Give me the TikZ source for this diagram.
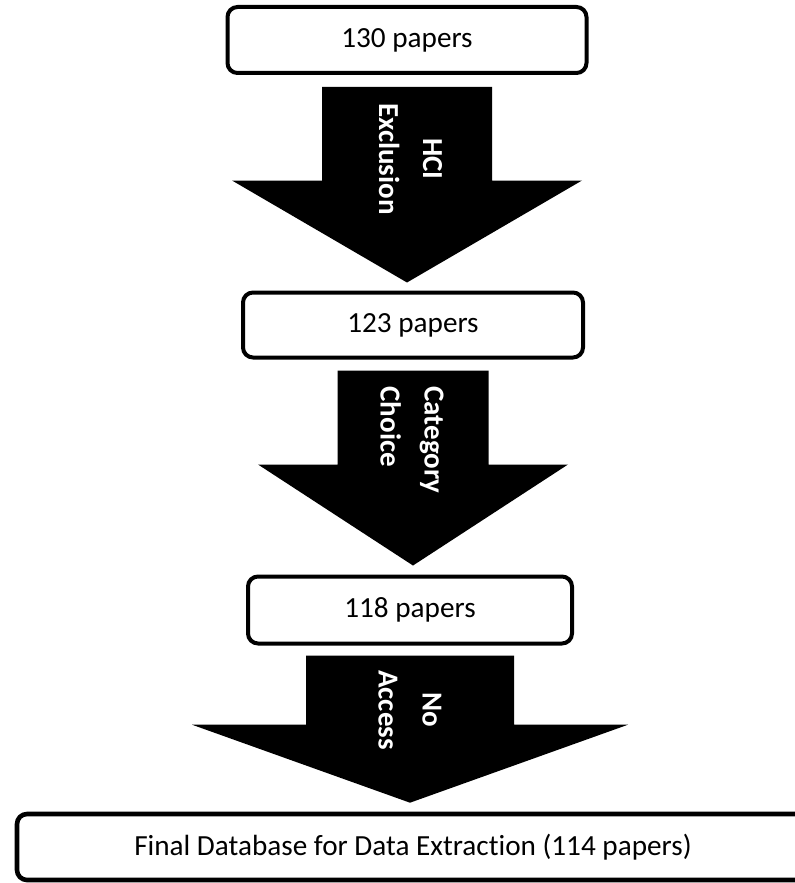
\documentclass[tikz,border=0pt]{standalone}
\usepackage{fontspec}
\setmainfont{Carlito}[Ligatures=NoCommon]
\usetikzlibrary{calc}
\usetikzlibrary{positioning}

\tikzset{
  paperbox/.style={draw=black, line width=2pt, rounded corners=5pt, fill=white,
    inner sep=0pt, font=\fontsize{14.6}{17}\selectfont},
  steplabel/.style={rotate=-90, text=white, inner sep=0pt,
    font=\fontsize{14.5}{22}\selectfont\bfseries},
}

\begin{document}
\begin{tikzpicture}[x=0.5pt, y=-0.5pt]
\useasboundingbox (0,0) rectangle (795,883);
\clip (0,0) rectangle (795,883);

% paper counts
\node[paperbox, minimum width=179.5pt, minimum height=33pt] (p130) at (407,40) {130 papers};
\node[paperbox, minimum width=170pt, minimum height=32.5pt] (p123) at (413,325) {123 papers};
\node[paperbox, minimum width=162pt, minimum height=33.5pt] (p118) at (410,610) {118 papers};
\node[paperbox, line width=2.3pt, minimum width=396pt, minimum height=33pt] (final) at (413,847)
  {Final Database for Data Extraction (114 papers)};

% block arrows: from/to/shaft half/head half/head length/top gap/tip gap
\foreach \from/\to/\sw/\hw/\hl/\tg/\pg in
  {p130/p123/85/175/102/12/8, p123/p118/75.5/155/101/11/9, p118/final/104/218/78/10/9} {
  \coordinate (top) at ($(\from.south)+(0,\tg)$);
  \coordinate (tip) at ($(\from.south |- \to.north)+(0,-\pg)$);
  \fill[black] ($(top)+(-\sw,0)$) -- ($(top)+(\sw,0)$) -- ($(tip)+(\sw,-\hl)$)
    -- ($(tip)+(\hw,-\hl)$) -- (tip) -- ($(tip)+(-\hw,-\hl)$)
    -- ($(tip)+(-\sw,-\hl)$) -- cycle;
}

% step names
\node[steplabel, align=center] (hci) at (410.5,159) {HCI\\Exclusion};
\node[steplabel, align=left] (cat) at (412,440) {Category\\Choice};
\node[steplabel, align=center] (acc) at (410,710) {No\\Access};
\end{tikzpicture}
\end{document}
